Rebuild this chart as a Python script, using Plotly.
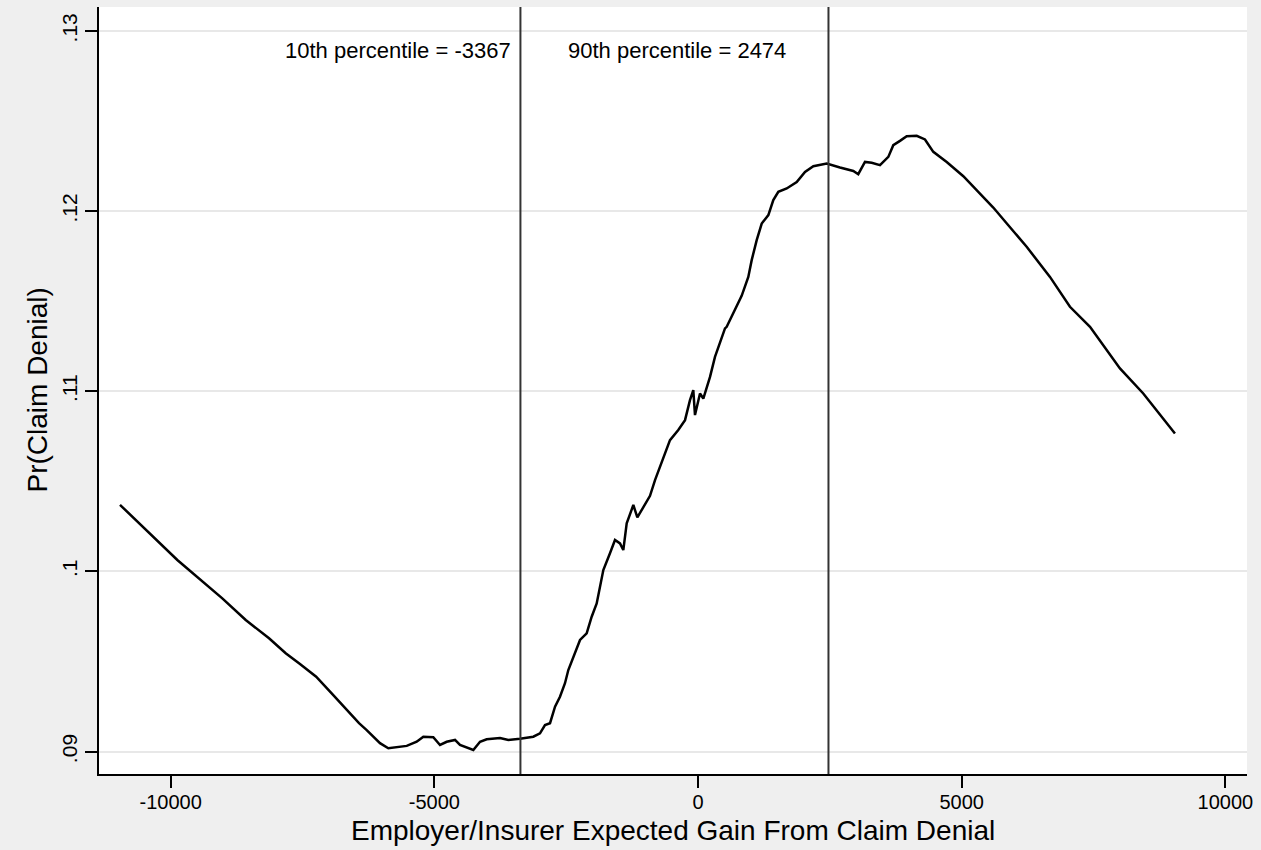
import plotly.graph_objects as go

# smoothed Pr(claim denial) against employer/insurer expected gain
gain = [
    -10960, -9873, -9020, -8576, -8134, -7818, -7547, -7240, -6920, -6661,
    -6428, -6282, -6030, -5872, -5650, -5523, -5334, -5208, -5019, -4892,
    -4765, -4607, -4513, -4418, -4260, -4133, -4007, -3754, -3597, -3375,
    -3123, -2996, -2901, -2806, -2711, -2617, -2522, -2459, -2364, -2237,
    -2111, -2016, -1921, -1858, -1795, -1669, -1574, -1479, -1416, -1352,
    -1226, -1150, -1036, -910, -815, -721, -531, -374, -246, -152,
    -89, -57, 38, 101, 228, 322, 417, 512, 544, 702,
    828, 954, 1018, 1113, 1208, 1334, 1428, 1523, 1682, 1872,
    2029, 2187, 2441, 2692, 2945, 3039, 3166, 3293, 3451, 3609,
    3703, 3830, 3957, 4147, 4304, 4462, 4716, 5031, 5284, 5599,
    5884, 6232, 6674, 7053, 7433, 7685, 8001, 8443, 9044,
]
pr_denial = [
    0.10370, 0.10064, 0.09851, 0.09731, 0.09629, 0.09546, 0.09487, 0.09416, 0.09315, 0.09231,
    0.09158, 0.09120, 0.09047, 0.09019, 0.09028, 0.09032, 0.09055, 0.09083, 0.09080, 0.09037,
    0.09055, 0.09065, 0.09037, 0.09028, 0.09009, 0.09055, 0.09069, 0.09076, 0.09065, 0.09072,
    0.09083, 0.09102, 0.09148, 0.09158, 0.09250, 0.09305, 0.09380, 0.09453, 0.09527, 0.09620,
    0.09657, 0.09749, 0.09823, 0.09915, 0.10008, 0.10101, 0.10175, 0.10156, 0.10119, 0.10267,
    0.10369, 0.10300, 0.10359, 0.10420, 0.10507, 0.10581, 0.10729, 0.10785, 0.10840, 0.10951,
    0.11007, 0.10868, 0.10988, 0.10960, 0.11080, 0.11191, 0.11266, 0.11349, 0.11358, 0.11450,
    0.11530, 0.11635, 0.11728, 0.11839, 0.11931, 0.11978, 0.12061, 0.12107, 0.12126, 0.12162,
    0.12218, 0.12249, 0.12264, 0.12242, 0.12223, 0.12205, 0.12273, 0.12268, 0.12255, 0.12301,
    0.12366, 0.12390, 0.12416, 0.12418, 0.12398, 0.12329, 0.12273, 0.12194, 0.12116, 0.12020,
    0.11922, 0.11802, 0.11635, 0.11469, 0.11358, 0.11256, 0.11127, 0.10988, 0.10766,
]

pct_values = [-3367, 2474]
pct_labels = ["10th percentile = -3367", "90th percentile = 2474"]

x_ticks = [-10000, -5000, 0, 5000, 10000]
x_ticktext = ["-10000", "-5000", "0", "5000", "10000"]
y_ticks = [0.09, 0.10, 0.11, 0.12, 0.13]
y_ticktext = [".09", ".1", ".11", ".12", ".13"]

FONT = "Liberation Sans, Arial, sans-serif"

fig = go.Figure()
fig.add_trace(go.Scatter(
    x=gain, y=pr_denial, mode="lines",
    line=dict(color="black", width=2.5),
    showlegend=False,
))

for v in pct_values:
    fig.add_shape(type="line", x0=v, x1=v, xref="x", y0=0, y1=1, yref="paper",
                  line=dict(color="#333333", width=2))

fig.add_annotation(x=pct_values[0], y=0.12893, text=pct_labels[0], showarrow=False,
                   xanchor="right", xshift=-7, font=dict(size=22, color="black", family=FONT))
fig.add_annotation(x=pct_values[0], y=0.12893, text=pct_labels[1], showarrow=False,
                   xanchor="left", xshift=46, font=dict(size=22, color="black", family=FONT))

# axis titles placed as annotations to sit where Stata puts them
fig.add_annotation(x=0.5, xref="paper", y=-0.074, yref="paper", yanchor="middle",
                   text="Employer/Insurer Expected Gain From Claim Denial", showarrow=False,
                   font=dict(size=28, color="black", family=FONT))
fig.add_annotation(x=-0.054, xref="paper", xanchor="center", y=0.5, yref="paper",
                   text="Pr(Claim Denial)", textangle=-90, showarrow=False,
                   font=dict(size=28, color="black", family=FONT))

fig.update_layout(
    width=1261, height=850,
    paper_bgcolor="#efefef", plot_bgcolor="white",
    margin=dict(l=99, r=14, t=7, b=76),
    font=dict(family=FONT, color="black"),
    showlegend=False,
)
fig.update_xaxes(
    range=[-11358, 10410], tickvals=x_ticks, ticktext=x_ticktext, ticks="outside",
    ticklen=12, tickwidth=1.5, tickcolor="black", showline=True, linecolor="black",
    linewidth=2, showgrid=False, zeroline=False, tickfont=dict(size=20),
    ticklabelstandoff=-3,
)
fig.update_yaxes(
    range=[0.08876, 0.13133], tickvals=y_ticks, ticktext=y_ticktext, tickangle=-90,
    ticks="outside", ticklen=12, tickwidth=1.5, tickcolor="black",
    showline=True, linecolor="black", linewidth=2,
    showgrid=True, gridcolor="#e8e8e8", gridwidth=2, zeroline=False, tickfont=dict(size=21),
)

fig.write_html("out.html", config={"displayModeBar": False},
               post_script="document.body.style.margin='0';")
